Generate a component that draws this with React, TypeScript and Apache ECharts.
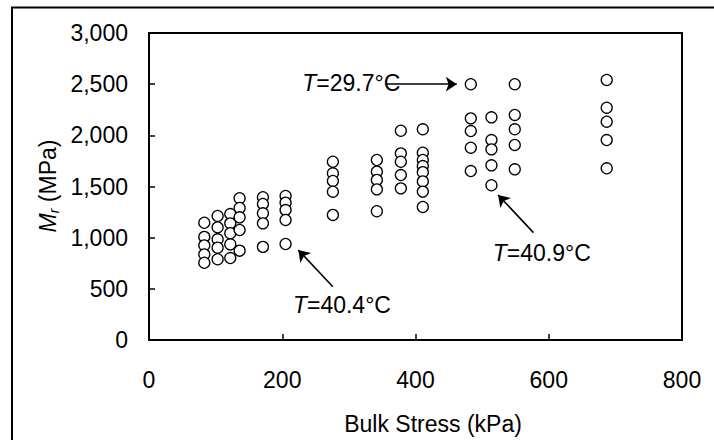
import { useEffect, useRef } from "react";
import * as echarts from "echarts";

// Bulk stress (kPa) of each column of points
const bulkStress = [83, 103, 122, 136, 171, 205, 276, 342, 378, 411, 483, 514, 549, 687];

// Resilient modulus Mr (MPa) per bulk-stress column
const mrAt83 = [1146, 1007, 925, 837, 755];
const mrAt103 = [1212, 1101, 984, 902, 789];
const mrAt122 = [1231, 1140, 1043, 935, 801];
const mrAt136 = [1385, 1290, 1199, 1075, 873];
const mrAt171 = [1395, 1329, 1238, 1140, 910];
const mrAt205 = [1407, 1342, 1270, 1173, 938];
const mrAt276 = [1742, 1629, 1554, 1449, 1222];
const mrAt342 = [1759, 1645, 1564, 1472, 1258];
const mrAt378 = [2045, 1824, 1742, 1612, 1482];
const mrAt411 = [2059, 1830, 1759, 1700, 1640, 1550, 1450, 1300];
const mrAt483 = [2499, 2166, 2042, 1879, 1651];
const mrAt514 = [2176, 1954, 1863, 1707, 1512];
const mrAt549 = [2499, 2199, 2059, 1906, 1668];
const mrAt687 = [2541, 2270, 2133, 1954, 1678];

const modulusGroups = [
  mrAt83, mrAt103, mrAt122, mrAt136, mrAt171, mrAt205, mrAt276,
  mrAt342, mrAt378, mrAt411, mrAt483, mrAt514, mrAt549, mrAt687,
];

// Axis ranges
const xRange = [0, 800, 200];
const yRange = [0, 3000, 500];

// Temperature annotations (in data units)
const annotationTemps = ["29.7°C", "40.4°C", "40.9°C"];
const annotationTextAt = [
  [230, 2511],
  [216, 342],
  [516, 853],
];
const arrowFrom = [
  [356, 2500],
  [276, 521],
  [577, 1049],
];
const arrowTo = [
  [462, 2500],
  [224, 880],
  [524, 1417],
];

const FONT = "'Liberation Sans', Arial, Helvetica, sans-serif";
const FS = 23;

export default function App() {
  const ref = useRef<HTMLDivElement>(null);

  useEffect(() => {
    if (!ref.current) return;
    const chart = echarts.init(ref.current, undefined, { renderer: "svg" });

    const points: number[][] = [];
    bulkStress.forEach((x, i) => {
      modulusGroups[i].forEach((y) => points.push([x, y]));
    });

    const labelStyle = { fontSize: FS, fontFamily: FONT, color: "#000" };

    chart.setOption({
      animation: false,
      backgroundColor: "#fff",
      grid: {
        left: 149,
        top: 33,
        right: 32,
        bottom: 100,
        show: true,
        borderColor: "#000",
        borderWidth: 2,
        backgroundColor: "transparent",
      },
      xAxis: {
        type: "value",
        min: xRange[0],
        max: xRange[1],
        interval: xRange[2],
        axisLine: { show: true, lineStyle: { color: "#000", width: 2 } },
        axisTick: { show: true, inside: true, length: 6, lineStyle: { color: "#000", width: 1.5 } },
        axisLabel: { ...labelStyle, margin: 28 },
        splitLine: { show: false },
      },
      yAxis: {
        type: "value",
        min: yRange[0],
        max: yRange[1],
        interval: yRange[2],
        axisLine: { show: true, lineStyle: { color: "#000", width: 2 } },
        axisTick: { show: true, inside: true, length: 6, lineStyle: { color: "#000", width: 1.5 } },
        axisLabel: {
          ...labelStyle,
          margin: 21,
          formatter: (v: number) => v.toLocaleString("en-US"),
        },
        splitLine: { show: false },
      },
      series: [
        {
          type: "scatter",
          data: points,
          symbol: "circle",
          symbolSize: 11,
          itemStyle: { color: "#fff", borderColor: "#000", borderWidth: 1.3, opacity: 1 },
          markLine: {
            silent: true,
            animation: false,
            symbol: ["none", "arrow"],
            symbolSize: 11,
            label: { show: false },
            lineStyle: { color: "#000", width: 1.6, type: "solid" },
            data: arrowFrom.map((f, i) => [{ coord: f }, { coord: arrowTo[i] }]),
          },
        },
      ],
    });

    const txtRich = {
      i: { fontSize: FS, fontFamily: FONT, fontStyle: "italic", fill: "#000" },
      n: { fontSize: FS, fontFamily: FONT, fill: "#000" },
    };

    const annotationGraphics = annotationTemps.map((t, i) => {
      const p = chart.convertToPixel({ gridIndex: 0 }, annotationTextAt[i]) as number[];
      return {
        type: "text",
        x: p[0],
        y: p[1],
        silent: true,
        style: {
          text: `{i|T}{n|=${t}}`,
          rich: txtRich,
          fontSize: FS,
          fontFamily: FONT,
          fill: "#000",
          align: "left",
          verticalAlign: "middle",
        },
      };
    });

    chart.setOption({
      graphic: [
        {
          type: "polyline",
          silent: true,
          shape: { points: [[12, 460], [12, 7.5], [730, 7.5]] },
          style: { fill: "none", stroke: "#000", lineWidth: 2 },
        },
        {
          type: "text",
          x: 433,
          y: 424,
          silent: true,
          style: {
            text: "Bulk Stress (kPa)",
            fontSize: FS,
            fontFamily: FONT,
            fill: "#000",
            align: "center",
            verticalAlign: "middle",
          },
        },
        {
          type: "text",
          x: 48,
          y: 186,
          rotation: Math.PI / 2,
          silent: true,
          style: {
            text: "{i|M}{s|r}{n| (MPa)}",
            rich: {
              i: { fontSize: FS, fontFamily: FONT, fontStyle: "italic", fill: "#000", lineHeight: 26 },
              s: { fontSize: 14, fontFamily: FONT, fontStyle: "italic", fill: "#000", lineHeight: 12, verticalAlign: "bottom" },
              n: { fontSize: FS, fontFamily: FONT, fill: "#000", lineHeight: 26 },
            },
            align: "center",
            verticalAlign: "middle",
          },
        },
        ...annotationGraphics,
      ],
    });

    return () => chart.dispose();
  }, []);

  return (
    <div
      ref={ref}
      style={{ position: "fixed", left: 0, top: 0, width: 714, height: 440, background: "#fff" }}
    />
  );
}
